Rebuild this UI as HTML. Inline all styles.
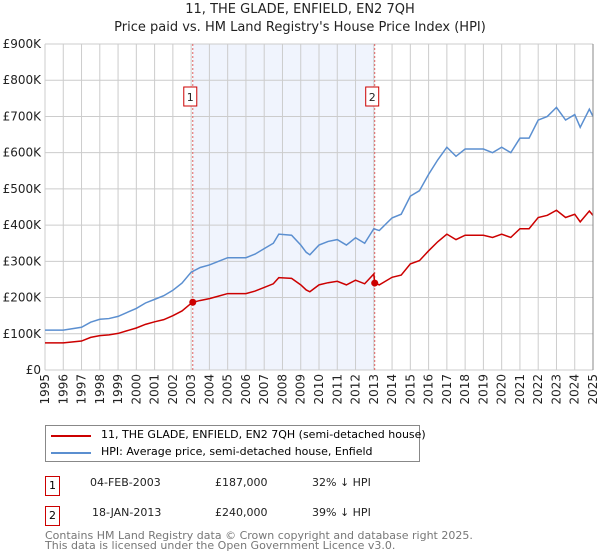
<!DOCTYPE html>
<html><head><meta charset="utf-8"><style>
body{margin:0;width:600px;height:560px;background:#fff;font-family:"DejaVu Sans","Liberation Sans",sans-serif;overflow:hidden;position:relative}
.t{position:absolute;left:0;width:600px;text-align:center;font-size:13px;color:#222}
.leg{position:absolute;left:45px;top:425px;width:373px;height:35px;border:1px solid #888;font-size:11px;white-space:nowrap}
.row{position:absolute;font-size:11px;color:#222;white-space:nowrap}
.badge{position:absolute;width:13px;height:18px;border:1px solid #c00;font-size:11px;text-align:center;line-height:18px;background:#fff}
.foot{position:absolute;left:45px;font-size:11px;color:#777;white-space:nowrap}
</style></head><body>
<div class="t" style="top:2px">11, THE GLADE, ENFIELD, EN2 7QH</div>
<div class="t" style="top:20px">Price paid vs. HM Land Registry's House Price Index (HPI)</div>
<svg id="chart" width="600" height="420" style="position:absolute;left:0;top:0"></svg>
<div class="leg">
<div style="position:absolute;left:5px;top:9px;width:40px;height:2px;background:#c00"></div>
<div style="position:absolute;left:55px;top:2px">11, THE GLADE, ENFIELD, EN2 7QH (semi-detached house)</div>
<div style="position:absolute;left:5px;top:26px;width:40px;height:2px;background:#5b8fd0"></div>
<div style="position:absolute;left:55px;top:19px">HPI: Average price, semi-detached house, Enfield</div>
</div>
<div class="badge" style="left:45px;top:476px">1</div>
<div class="row" style="left:90px;top:476px">04-FEB-2003</div>
<div class="row" style="left:215px;top:476px">£187,000</div>
<div class="row" style="left:312px;top:476px">32% ↓ HPI</div>
<div class="badge" style="left:45px;top:506px">2</div>
<div class="row" style="left:92px;top:506px">18-JAN-2013</div>
<div class="row" style="left:215px;top:506px">£240,000</div>
<div class="row" style="left:312px;top:506px">39% ↓ HPI</div>
<div class="foot" style="top:529px">Contains HM Land Registry data © Crown copyright and database right 2025.</div>
<div class="foot" style="top:539px">This data is licensed under the Open Government Licence v3.0.</div>
<script>
const yTicks=[0,100,200,300,400,500,600,700,800,900];
const yTickLabels=["£0","£100K","£200K","£300K","£400K","£500K","£600K","£700K","£800K","£900K"];
const years=[1995,1996,1997,1998,1999,2000,2001,2002,2003,2004,2005,2006,2007,2008,2009,2010,2011,2012,2013,2014,2015,2016,2017,2018,2019,2020,2021,2022,2023,2024,2025];
const hpiT=[1995,1996,1997,1997.5,1998,1998.5,1999,2000,2000.5,2001,2001.5,2002,2002.5,2003,2003.5,2004,2004.5,2005,2005.5,2006,2006.5,2007,2007.5,2007.8,2008.5,2009,2009.3,2009.5,2010,2010.5,2011,2011.5,2012,2012.5,2013,2013.3,2014,2014.5,2015,2015.5,2016,2016.5,2017,2017.5,2018,2019,2019.5,2020,2020.5,2021,2021.5,2022,2022.5,2023,2023.5,2024,2024.3,2024.8,2025];
const hpiV=[110,110,118,132,140,142,148,170,185,195,205,220,240,270,283,290,300,310,310,310,320,335,350,375,372,345,325,318,345,355,360,345,365,350,390,385,420,430,480,495,540,580,615,590,610,610,600,615,600,640,640,690,700,725,690,705,670,720,700];
const priceT=[1995,1996,1997,1997.5,1998,1998.5,1999,2000,2000.5,2001,2001.5,2002,2002.5,2003,2003.09,2003.5,2004,2004.5,2005,2005.5,2006,2006.5,2007,2007.5,2007.8,2008.5,2009,2009.3,2009.5,2010,2010.5,2011,2011.5,2012,2012.5,2013,2013.05,2013.3,2014,2014.5,2015,2015.5,2016,2016.5,2017,2017.5,2018,2019,2019.5,2020,2020.5,2021,2021.5,2022,2022.5,2023,2023.5,2024,2024.3,2024.8,2025];
const priceV=[75,75,80,90,95,97,101,116,126,133,139,150,163,184,187,192,197,204,211,211,211,218,228,238,255,253,235,221,216,235,241,245,235,248,238,265,240,235,256,262,293,302,329,354,375,360,372,372,366,375,366,390,390,421,427,441,421,430,409,439,427];
const saleT=[2003.09,2013.05];
const saleV=[187,240];
const saleLabels=["1","2"];
const NS="http://www.w3.org/2000/svg";
const svg=document.getElementById('chart');
const X0=45,X1=593,Y0=370,Y1=44;
const x=t=>X0+(t-1995)/30*(X1-X0);
const y=v=>Y0-v/900*(Y0-Y1);
function mk(tag,at,parent){const e=document.createElementNS(NS,tag);for(const k in at)e.setAttribute(k,at[k]);(parent||svg).appendChild(e);return e;}
let r=mk('rect',{x:x(saleT[0]),y:Y1,width:x(saleT[1])-x(saleT[0]),height:Y0-Y1,fill:'#f0f4fd'});


yTicks.forEach((v,i)=>{
 let l=mk('line',{x1:X0,x2:X1,y1:y(v),y2:y(v),stroke:'#ccc','stroke-width':1});
 
 
 let t=mk('text',{x:X0-4,y:y(v)+4,'text-anchor':'end','font-size':12,fill:'#222'});
 t.textContent=yTickLabels[i];
 
 
});
years.forEach(yr=>{
 let l=mk('line',{x1:x(yr),x2:x(yr),y1:Y1,y2:Y0,stroke:'#ccc','stroke-width':1});
 
 
 let t=mk('text',{transform:`translate(${x(yr)+4},${Y0+4}) rotate(-90)`,'text-anchor':'end','font-size':12,fill:'#222'});
 t.textContent=yr;
 
 
});
saleT.forEach((t,i)=>{
 let l=mk('line',{x1:x(t),x2:x(t),y1:Y1,y2:Y0,stroke:'#e06060','stroke-dasharray':'2,2','stroke-width':1});
 
 
 let b=mk('rect',{x:x(t)-9,y:87,width:13,height:19,fill:'#fff',stroke:'#c00'});
 
 
 let tx=mk('text',{x:x(t)-2.5,y:101,'text-anchor':'middle','font-size':11,fill:'#222'});
 tx.textContent=saleLabels[i];
 
 
});
let hp=mk('polyline',{points:hpiT.map((t,i)=>x(t)+','+y(hpiV[i])).join(' '),fill:'none',stroke:'#5b8fd0','stroke-width':1.5});


let pp=mk('polyline',{points:priceT.map((t,i)=>x(t)+','+y(priceV[i])).join(' '),fill:'none',stroke:'#cc0000','stroke-width':1.5});


saleT.forEach((t,i)=>{
 let c=mk('circle',{cx:x(t),cy:y(saleV[i]),r:3.5,fill:'#cc0000'});
 
 
});
let ax=mk('line',{x1:X1,x2:X1,y1:Y1,y2:Y0,stroke:'#888'});


</script>
</body></html>
